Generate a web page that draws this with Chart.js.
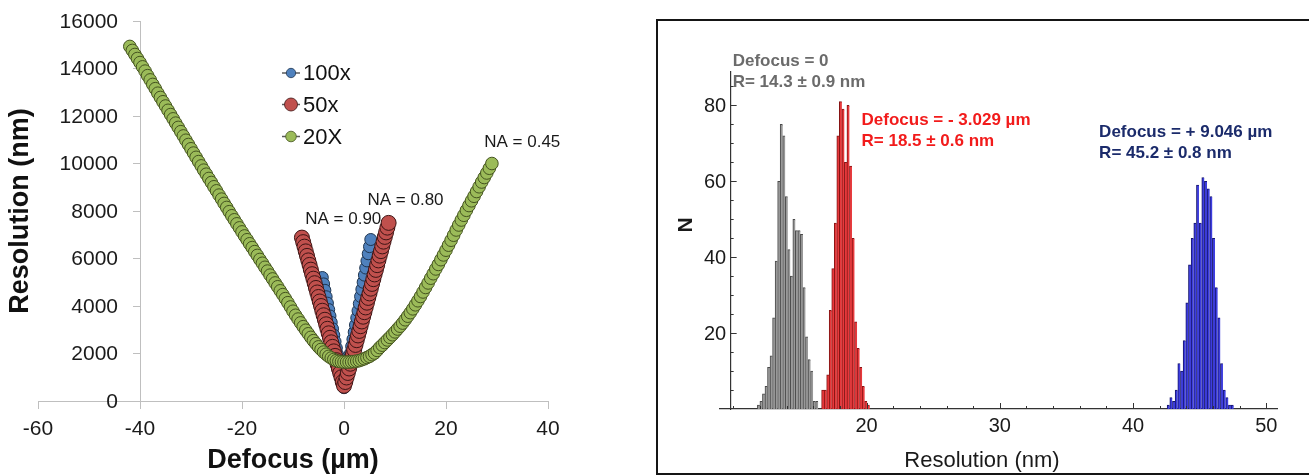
<!DOCTYPE html>
<html>
<head>
<meta charset="utf-8">
<script src="https://cdn.jsdelivr.net/npm/chart.js@4.4.1/dist/chart.umd.min.js"></script>
<style>
    html, body { margin: 0; padding: 0; background: #fff; }
    body { width: 1309px; height: 476px; position: relative; overflow: hidden; }
    #leftWrap { position: absolute; left: 0; top: 0; width: 620px; height: 476px; }
    #rightFrame { position: absolute; left: 656px; top: 19px; width: 700px; height: 452px; border: 2px solid #151515; }
    #rightWrap { position: absolute; left: 660px; top: 22px; width: 649px; height: 450px; }
</style>
</head>
<body>
<div id="leftWrap"><canvas id="chartDefocus"></canvas></div>
<div id="rightFrame"></div>
<div id="rightWrap"><canvas id="chartHist"></canvas></div>
<script>
// ---- left panel: resolution vs defocus ----
var defocus100x = [-4.25,-4,-3.75,-3.5,-3.25,-3,-2.75,-2.5,-2.25,-2,
    -1.75,-1.5,-1.25,-1,-0.75,-0.5,-0.25,0,
    0.25,0.5,0.75,1,1.25,1.5,1.75,2,2.25,2.5,
    2.75,3,3.25,3.5,3.75,4,4.25,4.5,4.75,5,5.25];
var resolution100x = [5200,4930,4660,4390,4120,3850,3580,3310,3040,2770,
    2500,2230,1960,1690,1420,1150,850,560,
    820,1100,1400,1700,2000,2300,2600,2900,3200,3500,
    3800,4100,4400,4700,5000,5300,5600,5900,6200,6500,6800];

var defocus50x = [-8.25,-8,-7.75,-7.5,-7.25,-7,-6.75,-6.5,-6.25,-6,
    -5.75,-5.5,-5.25,-5,-4.75,-4.5,-4.25,-4,-3.75,-3.5,
    -3.25,-3,-2.75,-2.5,-2.25,-2,-1.75,-1.5,-1.25,-1,
    -0.75,-0.5,-0.25,0,
    0.25,0.5,0.75,1,1.25,1.5,1.75,2,2.25,2.5,
    2.75,3,3.25,3.5,3.75,4,4.25,4.5,4.75,5,
    5.25,5.5,5.75,6,6.25,6.5,6.75,7,7.25,7.5,
    7.75,8,8.25,8.5,8.75];
var resolution50x = [6880,6690,6500,6300,6110,5920,5730,5530,5340,5150,
    4960,4760,4570,4380,4190,4000,3800,3610,3420,3230,
    3040,2850,2660,2470,2280,2090,1900,1720,1540,1360,
    1180,1000,800,640,
    800,990,1180,1370,1570,1770,1960,2160,2360,2560,
    2760,2950,3150,3350,3550,3740,3940,4140,4340,4530,
    4730,4930,5130,5330,5520,5720,5920,6120,6310,6510,
    6710,6910,7100,7300,7500];

var defocus20x = [-42,-41.5,-41,-40.5,-40,-39.5,-39,-38.5,-38,-37.5,
    -37,-36.5,-36,-35.5,-35,-34.5,-34,-33.5,-33,-32.5,
    -32,-31.5,-31,-30.5,-30,-29.5,-29,-28.5,-28,-27.5,
    -27,-26.5,-26,-25.5,-25,-24.5,-24,-23.5,-23,-22.5,
    -22,-21.5,-21,-20.5,-20,-19.5,-19,-18.5,-18,-17.5,
    -17,-16.5,-16,-15.5,-15,-14.5,-14,-13.5,-13,-12.5,
    -12,-11.5,-11,-10.5,-10,-9.5,-9,-8.5,-8,-7.5,
    -7,-6.5,-6,-5.5,-5,-4.5,-4,-3.5,-3,-2.5,
    -2,-1.5,-1,-0.5,0,
    0.5,1,1.5,2,2.5,3,3.5,4,4.5,5,
    5.5,6,6.5,7,7.5,8,8.5,9,9.5,10,
    10.5,11,11.5,12,12.5,13,13.5,14,14.5,15,
    15.5,16,16.5,17,17.5,18,18.5,19,19.5,20,
    20.5,21,21.5,22,22.5,23,23.5,24,24.5,25,
    25.5,26,26.5,27,27.5,28,28.5,29];
var resolution20x = [14930,14760,14590,14420,14250,14070,13890,13700,13520,13330,
    13150,12960,12780,12600,12420,12240,12060,11880,11700,11520,
    11340,11160,10980,10800,10620,10440,10260,10080,9900,9720,
    9550,9370,9200,9020,8850,8670,8500,8320,8150,7970,
    7800,7630,7460,7290,7120,6950,6790,6620,6460,6290,
    6130,5960,5800,5630,5470,5300,5140,4970,4810,4640,
    4480,4310,4140,3960,3780,3610,3450,3290,3130,2980,
    2830,2680,2540,2410,2280,2170,2060,1970,1880,1810,
    1750,1700,1670,1650,1640,
    1640,1640,1650,1660,1680,1700,1740,1780,1830,1880,
    1950,2020,2130,2250,2350,2460,2570,2680,2790,2910,
    3030,3150,3280,3420,3570,3720,3880,4050,4220,4400,
    4590,4780,4970,5170,5360,5560,5750,5950,6150,6350,
    6560,6770,6980,7200,7410,7620,7820,8030,8230,8430,
    8620,8820,9020,9220,9410,9600,9800,10000];

var objectiveLabels = ['100x', '50x', '20X'];

// ---- right panel: histograms of resolution ----
var grayBins = [11.90,12.09,12.28,12.47,12.66,12.85,13.04,13.23,13.42,13.61,13.80,13.99,
    14.18,14.37,14.56,14.75,14.94,15.13,15.32,15.51,15.70,15.89,16.08,16.27];
var grayCounts = [1,2,4,6,11,14,24,39,60,75,72,56,42,35,50,47,47,46,32,19,13,10,2,2];
var redBins = [16.72,16.91,17.10,17.29,17.48,17.67,17.86,18.05,18.24,18.43,18.62,18.81,
    19.00,19.19,19.38,19.57,19.76,19.95,20.14];
var redCounts = [5,5,9,26,37,49,72,81,79,65,80,64,45,23,16,11,6,2,1];
var blueBins = [42.65,42.85,43.05,43.25,43.45,43.65,43.85,44.05,44.25,44.45,44.65,44.85,
    45.05,45.25,45.45,45.65,45.85,46.05,46.25,46.45,46.65,46.85,47.05,47.25,47.45];
var blueCounts = [1,3,2,5,12,10,18,28,38,45,49,59,49,61,60,58,56,45,32,24,12,5,3,1,1];

var histTicksX = [20, 30, 40, 50];
var histTicksY = [20, 40, 60, 80];

Chart.defaults.font.family = "'Liberation Sans', Arial, sans-serif";
Chart.defaults.color = '#1a1a1a';

var toPoints = function(xs, ys){
    return xs.map(function(x, i){ return {x: x, y: ys[i]}; });
}

// text drawn in data coordinates (xv/yv) or canvas pixels (px/py)
var textPlugin = {
    id: 'textPlugin',
    afterDraw: function(chart, args, opts){
        var ctx = chart.ctx;
        (opts.items || []).forEach(function(item){
            var px = item.xv !== undefined ? chart.scales.x.getPixelForValue(item.xv) : item.px;
            var py = item.yv !== undefined ? chart.scales.y.getPixelForValue(item.yv) : item.py;
            ctx.save();
            ctx.font = item.font;
            ctx.fillStyle = item.color;
            ctx.textAlign = item.align || 'center';
            ctx.textBaseline = 'middle';
            ctx.translate(px, py);
            if(item.rotate){
                ctx.rotate(item.rotate);
            }
            ctx.fillText(item.text, 0, 0);
            ctx.restore();
        });
    }
}

// y tick labels for an axis that sits inside the x range (chart.js puts them flush on the line)
var sideLabels = {
    id: 'sideLabels',
    afterDraw: function(chart, args, opts){
        var ctx = chart.ctx;
        var ys = chart.scales.y;
        var x0 = chart.scales.x.getPixelForValue(opts.at) - opts.gap;
        ctx.save();
        ctx.font = opts.font;
        ctx.fillStyle = '#1a1a1a';
        ctx.textAlign = 'right';
        ctx.textBaseline = 'middle';
        ys.ticks.forEach(function(t){
            if(opts.only && opts.only.indexOf(t.value) == -1) return;
            ctx.fillText(String(t.value), x0, ys.getPixelForValue(t.value) + 1);
        });
        ctx.restore();
    }
}

// excel style legend: -o- label
var lineLegend = {
    id: 'lineLegend',
    afterDraw: function(chart, args, opts){
        var ctx = chart.ctx;
        opts.rows.forEach(function(row, i){
            var ds = chart.data.datasets[i];
            ctx.save();
            ctx.strokeStyle = '#5a5a5a';
            ctx.lineWidth = 1.5;
            ctx.beginPath();
            ctx.moveTo(opts.x - 9, row.y);
            ctx.lineTo(opts.x + 9, row.y);
            ctx.stroke();
            ctx.beginPath();
            ctx.arc(opts.x, row.y, row.r, 0, Math.PI * 2);
            ctx.fillStyle = ds.backgroundColor;
            ctx.fill();
            ctx.lineWidth = 0.8;
            ctx.strokeStyle = ds.borderColor;
            ctx.stroke();
            ctx.font = '22px "Liberation Sans", Arial, sans-serif';
            ctx.fillStyle = '#111';
            ctx.textAlign = 'left';
            ctx.textBaseline = 'middle';
            ctx.fillText(ds.label, opts.x + 12, row.y + 1);
            ctx.restore();
        });
    }
}

// mathematica style ticks pointing into the plot
var innerTicks = {
    id: 'innerTicks',
    afterDraw: function(chart, args, opts){
        var ctx = chart.ctx;
        var xs = chart.scales.x, ys = chart.scales.y;
        var x0 = xs.getPixelForValue(opts.yAxisAt);
        var y0 = ys.getPixelForValue(0);
        ctx.save();
        ctx.strokeStyle = '#333';
        ctx.lineWidth = 1;
        xs.ticks.forEach(function(t){
            if(t.value <= opts.yAxisAt) return;
            var px = Math.round(xs.getPixelForValue(t.value)) + 0.5;
            var len = histTicksX.indexOf(t.value) != -1 ? 6 : 3;
            ctx.beginPath();
            ctx.moveTo(px, y0);
            ctx.lineTo(px, y0 - len);
            ctx.stroke();
        });
        ys.ticks.forEach(function(t){
            if(t.value <= 0) return;
            var py = Math.round(ys.getPixelForValue(t.value)) + 0.5;
            var len = histTicksY.indexOf(t.value) != -1 ? 6 : 3;
            ctx.beginPath();
            ctx.moveTo(x0, py);
            ctx.lineTo(x0 + len, py);
            ctx.stroke();
        });
        ctx.restore();
    }
}

var scatterSet = function(label, xs, ys, fill, edge, radius, order){
    return {
        label: label,
        data: toPoints(xs, ys),
        backgroundColor: fill,
        borderColor: edge,
        pointRadius: radius,
        pointHoverRadius: radius,
        pointBorderWidth: 1,
        order: order
    };
}

var histSet = function(label, bins, counts, fill, edge){
    return {
        label: label,
        data: toPoints(bins, counts),
        backgroundColor: fill,
        borderColor: edge,
        borderWidth: {top: 1, left: 1, right: 0, bottom: 0},
        barPercentage: 1,
        categoryPercentage: 1,
        grouped: false
    };
}

function drawDefocusChart(){
    var ctx = document.getElementById('chartDefocus').getContext('2d');
    new Chart(ctx, {
        type: 'scatter',
        data: {
            datasets: [
                scatterSet(objectiveLabels[0], defocus100x, resolution100x, '#4f81bd', '#1f3550', 6, 3),
                scatterSet(objectiveLabels[1], defocus50x, resolution50x, '#c0504d', '#3d1414', 7.5, 2),
                scatterSet(objectiveLabels[2], defocus20x, resolution20x, '#9bbb59', '#44531f', 6.3, 1)
            ]
        },
        plugins: [textPlugin, lineLegend, sideLabels],
        options: {
            responsive: true,
            maintainAspectRatio: false,
            animation: false,
            layout: {padding: {left: 38, right: 72, top: 21, bottom: 75}},
            plugins: {
                legend: {display: false},
                tooltip: {enabled: false},
                sideLabels: {at: -40, gap: 22, font: '21px "Liberation Sans", Arial'},
                lineLegend: {x: 291, rows: [{y: 73, r: 4.7}, {y: 104.5, r: 6.5}, {y: 136.5, r: 5.3}]},
                textPlugin: {items: [
                    {text: 'NA = 0.90', xv: -7.6, yv: 7630, align: 'left', font: '17px "Liberation Sans", Arial', color: '#1a1a1a'},
                    {text: 'NA = 0.80', xv: 4.6, yv: 8460, align: 'left', font: '17px "Liberation Sans", Arial', color: '#1a1a1a'},
                    {text: 'NA = 0.45', xv: 27.5, yv: 10900, align: 'left', font: '17px "Liberation Sans", Arial', color: '#1a1a1a'},
                    {text: 'Resolution (nm)', px: 21, py: 211, rotate: -Math.PI / 2, font: 'bold 27px "Liberation Sans", Arial', color: '#111'},
                    {text: 'Defocus (\u00b5m)', px: 293, py: 461, font: 'bold 27px "Liberation Sans", Arial', color: '#111'}
                ]}
            },
            scales: {
                x: {
                    type: 'linear',
                    min: -60, max: 40,
                    position: {y: 0},
                    grid: {drawOnChartArea: false, color: '#bfbfbf', tickLength: 7},
                    border: {display: true, color: '#bfbfbf', width: 1},
                    ticks: {stepSize: 20, font: {size: 21}, color: '#1a1a1a', padding: 9, maxRotation: 0,
                        callback: function(v){ return String(v); }}
                },
                y: {
                    type: 'linear',
                    min: 0, max: 16000,
                    position: {x: -40},
                    grid: {drawOnChartArea: false, color: '#bfbfbf', tickLength: 7},
                    border: {display: true, color: '#bfbfbf', width: 1},
                    ticks: {stepSize: 2000, display: false}
                }
            }
        }
    });
}

function drawHistChart(){
    var ctx = document.getElementById('chartHist').getContext('2d');
    var boldText = 'bold 17px "Liberation Sans", Arial';
    new Chart(ctx, {
        type: 'bar',
        data: {
            datasets: [
                histSet('Defocus = 0', grayBins, grayCounts, '#999999', '#4a4a4a'),
                histSet('Defocus = -3.029', redBins, redCounts, '#e8393c', '#861414'),
                histSet('Defocus = +9.046', blueBins, blueCounts, '#3d3ddf', '#15156e')
            ]
        },
        plugins: [textPlugin, innerTicks, sideLabels],
        options: {
            responsive: true,
            maintainAspectRatio: false,
            animation: false,
            layout: {padding: {left: 60, right: 32, top: 50, bottom: 63}},
            plugins: {
                legend: {display: false},
                tooltip: {enabled: false},
                innerTicks: {yAxisAt: 9.8},
                sideLabels: {at: 9.8, gap: 4.5, font: '20px "Liberation Sans", Arial', only: histTicksY},
                textPlugin: {items: [
                    {text: 'Defocus = 0', xv: 9.95, yv: 91.7, align: 'left', font: boldText, color: '#6b6b6b'},
                    {text: 'R= 14.3 \u00b1 0.9 nm', xv: 9.95, yv: 86.1, align: 'left', font: boldText, color: '#6b6b6b'},
                    {text: 'Defocus = - 3.029 \u00b5m', xv: 19.62, yv: 76.1, align: 'left', font: boldText, color: '#f21b1b'},
                    {text: 'R= 18.5 \u00b1 0.6 nm', xv: 19.62, yv: 70.6, align: 'left', font: boldText, color: '#f21b1b'},
                    {text: 'Defocus = + 9.046 \u00b5m', xv: 37.45, yv: 72.8, align: 'left', font: boldText, color: '#1b2b6b'},
                    {text: 'R= 45.2 \u00b1 0.8 nm', xv: 37.45, yv: 67.4, align: 'left', font: boldText, color: '#1b2b6b'},
                    {text: 'N', px: 26, py: 203, rotate: -Math.PI / 2, font: 'bold 21px "Liberation Sans", Arial', color: '#1a1a1a'},
                    {text: 'Resolution (nm)', px: 322, py: 439, font: '22px "Liberation Sans", Arial', color: '#1a1a1a'}
                ]}
            },
            scales: {
                x: {
                    type: 'linear',
                    min: 9, max: 50.8,
                    offset: false,
                    position: {y: 0},
                    grid: {display: false, drawTicks: false, offset: false},
                    border: {display: true, color: '#333', width: 1.2},
                    ticks: {stepSize: 2, includeBounds: false, autoSkip: false, maxRotation: 0,
                        font: {size: 20}, color: '#1a1a1a', padding: 5,
                        callback: function(v){ return histTicksX.indexOf(v) != -1 ? String(v) : ''; }}
                },
                y: {
                    type: 'linear',
                    min: 0, max: 88.8,
                    position: {x: 9.8},
                    grid: {display: false, drawTicks: false},
                    border: {display: true, color: '#333', width: 1.2},
                    ticks: {stepSize: 5, includeBounds: false, display: false}
                }
            }
        }
    });
}

drawDefocusChart();
drawHistChart();
</script>
</body>
</html>
